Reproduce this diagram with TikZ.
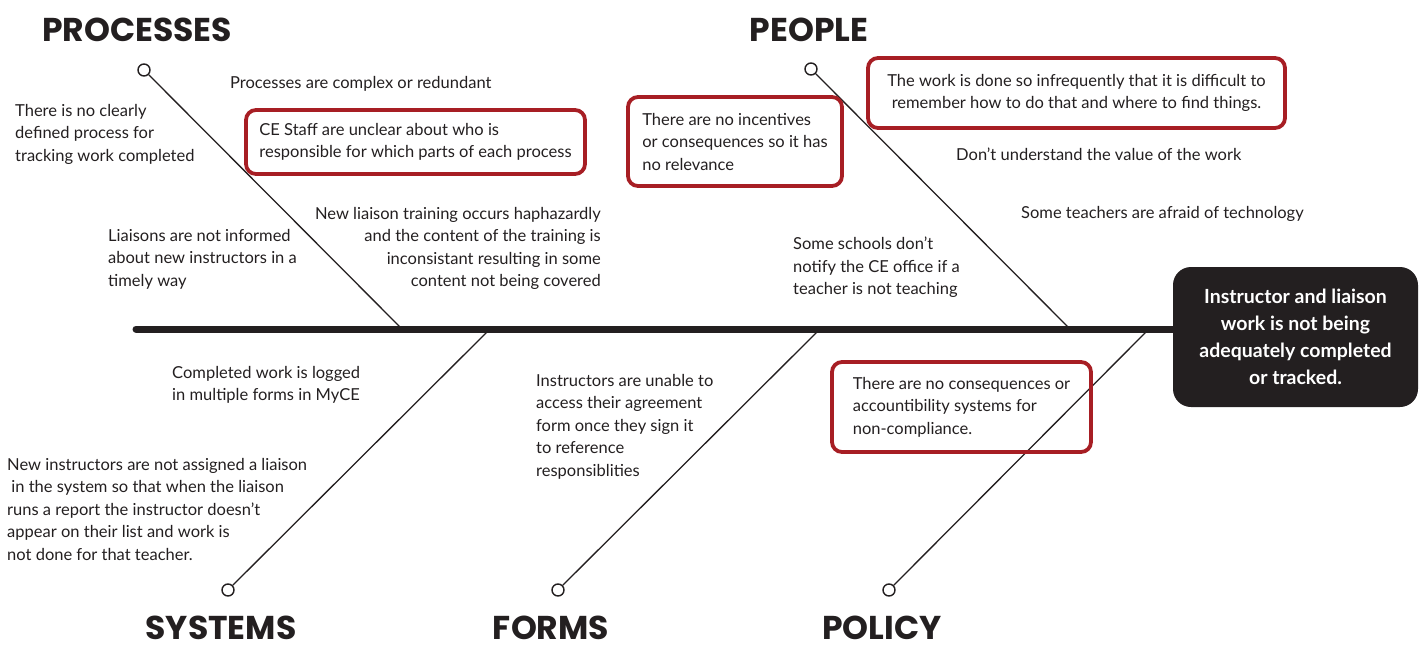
\documentclass[tikz,border=0pt]{standalone}
\usepackage{fontspec}
\setmainfont{Lato}
\newfontfamily\headfont{Poppins}
\usetikzlibrary{positioning}
\definecolor{boxRed}{RGB}{167,30,36}
\definecolor{inkBlack}{RGB}{35,31,32}
\tikzset{
  cause/.style={font=\fontsize{16.5}{22.5}\selectfont, text=inkBlack, inner sep=0pt, align=left, anchor=north west},
  causeR/.style={cause, align=right, anchor=north east},
  redbox/.style={cause, anchor=center, draw=boxRed, line width=3.8pt, rounded corners=10pt},
  heading/.style={font=\headfont\bfseries\fontsize{33}{33}\selectfont, text=inkBlack, inner sep=0pt},
  capdot/.style={circle, draw=inkBlack, line width=1.4pt, fill=white, minimum size=12pt, inner sep=0pt},
  bone/.style={inkBlack, line width=1.3pt},
  effect/.style={fill=inkBlack, rounded corners=18pt, text=white, align=center,
    font=\bfseries\fontsize{19.5}{27}\selectfont, minimum width=245pt, minimum height=140pt, inner sep=0pt}
}
\begin{document}
\begin{tikzpicture}[x=1pt,y=-1pt]
    \useasboundingbox (0,0) rectangle (1422,645);
    % head of the fish
    \node[effect] (effect) at (1295.5,337) {Instructor and liaison\\work is not being\\adequately completed\\or tracked.};
    \coordinate (tail) at (136,329);
    \draw[inkBlack, line width=7pt, line cap=round] (tail) -- (tail -| effect.west);
    % bones
    \foreach \name/\cx/\cy/\jx/\jy in {processes/144/70/402/329, people/811/69/1070/329,
        systems/228/590/487/332, forms/558/590/817/332, policy/889/590/1146/332} {
       \coordinate (j-\name) at (\jx,\jy);
       \node[capdot] (c-\name) at (\cx,\cy) {};
       \draw[bone] (c-\name) -- (j-\name);
     }
    \node[heading] (h-processes) at (137,30) {PROCESSES};
    \node[heading] (h-people) at (809,30) {PEOPLE};
    \node[heading] (h-systems) at (221,628) {SYSTEMS};
    \node[heading] (h-forms) at (551,628) {FORMS};
    \node[heading] (h-policy) at (882,628) {POLICY};
    % processes
    \node[cause] (p1) at (230,76) {Processes are complex or redundant};
    \node[cause] (p2) at (15,104) {There is no clearly\\defined process for\\tracking work completed};
    \node[redbox, minimum width=339pt, minimum height=64pt] (p3) at (415.5,142) {CE Staff are unclear about who is\\responsible for which parts of each process};
    \node[causeR] (p4) at (601,207) {New liaison training occurs haphazardly\\and the content of the training is\\inconsistant resulting in some\\content not being covered};
    \node[cause] (p5) at (108,229) {Liaisons are not informed\\about new instructors in a\\timely way};
    % people
    \node[redbox, minimum width=214pt, minimum height=89pt] (q1) at (735,141.5) {There are no incentives\\or consequences so it has\\no relevance};
    \node[redbox, align=center, minimum width=417pt, minimum height=70pt] (q2) at (1076.5,93) {The work is done so infrequently that it is difficult to\\remember how to do that and where to find things.};
    \node[cause] (q3) at (956,148) {Don’t understand the value of the work};
    \node[cause] (q4) at (1021,206) {Some teachers are afraid of technology};
    \node[cause] (q5) at (793,237) {Some schools don’t\\notify the CE office if a\\teacher is not teaching};
    % systems
    \node[cause] (s1) at (172,366) {Completed work is logged\\in multiple forms in MyCE};
    \node[cause] (s2) at (7,458) {New instructors are not assigned a liaison\\\ in the system so that when the liaison\\runs a report the instructor doesn’t\\appear on their list and work is\\not done for that teacher.};
    % forms
    \node[cause] (f1) at (536,374) {Instructors are unable to\\access their agreement\\form once they sign it\\to reference\\responsiblities};
    % policy
    \node[redbox, minimum width=259pt, minimum height=90pt] (r1) at (961.5,407) {There are no consequences or\\accountibility systems for\\non-compliance.};
\end{tikzpicture}
\end{document}
